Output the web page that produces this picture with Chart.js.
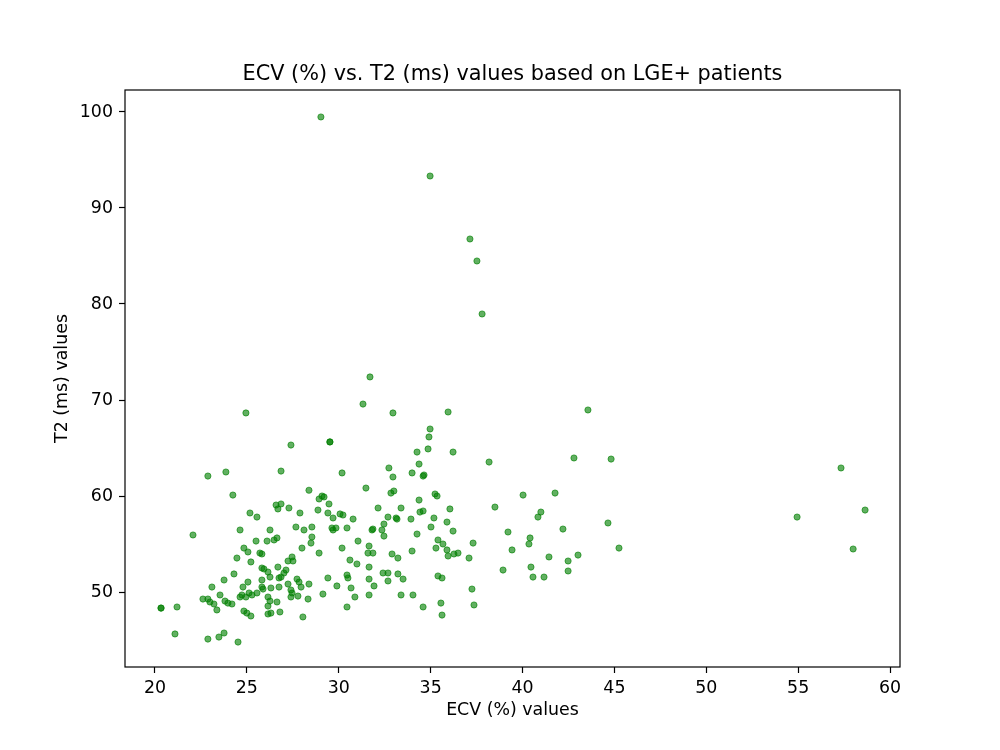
<!DOCTYPE html>
<html>
<head>
<meta charset="utf-8">
<script src="https://cdn.jsdelivr.net/npm/chart.js@4.4.0/dist/chart.umd.min.js"></script>
<style>
html,body{margin:0;padding:0;background:#fff;}
#c{display:block;}
</style>
</head>
<body>
<canvas id="c" width="1000" height="750"></canvas>
<script>
const chartTitle = "ECV (%) vs. T2 (ms) values based on LGE+ patients";
const xLabel = "ECV (%) values";
const yLabel = "T2 (ms) values";
const xTicks = [20,25,30,35,40,45,50,55,60];
const yTicks = [50,60,70,80,90,100];

const ecv = [29.03,34.97,37.14,37.52,37.80,31.70,31.32,32.95,35.95,24.95,43.56,34.97,34.91,34.86,29.52,29.52,27.40,34.26,36.22,34.37,32.73,38.18,42.80,44.82,57.33,22.88,23.86,26.86,30.18,33.99,34.59,34.64,32.95,28.38,31.48,
32.84,33.00,29.09,29.20,28.93,29.47,28.87,27.89,32.14,33.39,34.37,35.24,35.35,29.41,30.07,30.23,29.69,30.78,32.68,33.12,33.17,33.93,34.42,34.59,35.18,35.89,27.67,28.54,28.11,29.63,29.69,29.85,30.45,31.81,31.86,32.46,32.35,32.46,34.26,35.02,28.54,28.49,31.05,31.65,28.00,30.18,28.93,31.59,31.86,32.90,33.22,33.99,35.40,35.67,35.29,35.89,35.95,30.61,30.99,31.65,32.41,32.68,33.22,33.50,32.68,31.65,30.45,30.50,29.41,27.73,27.84,27.95,28.38,29.90,30.67,31.92,27.46,27.40,27.78,28.33,29.14,30.88,31.65,33.39,34.04,35.40,35.62,30.45,34.59,35.56,35.62,28.05,
24.24,25.17,25.55,26.59,26.86,26.69,27.29,22.07,24.63,26.26,25.50,26.10,26.48,26.64,24.84,25.06,25.71,25.82,24.46,25.22,26.69,27.24,27.46,27.51,25.82,25.93,26.15,27.13,27.02,24.30,26.26,26.75,26.86,23.76,27.24,25.06,25.82,23.10,24.79,25.82,23.54,24.63,24.73,24.95,25.12,25.28,25.55,25.88,26.31,26.75,27.40,22.61,22.88,22.99,23.21,23.37,23.81,23.97,24.19,26.15,26.26,26.15,26.64,24.84,25.00,25.22,26.15,26.31,26.80,20.33,20.33,21.20,21.09,22.88,23.48,23.76,24.52,
40.03,41.77,38.50,41.00,40.84,44.65,36.05,36.22,39.21,42.20,40.41,40.35,37.31,45.25,39.43,36.27,36.49,37.09,41.44,42.48,43.02,38.94,40.46,40.57,41.17,42.48,37.25,37.36,54.94,57.99,58.64];

const t2 = [99.48,93.33,86.77,84.48,78.96,72.40,69.58,68.65,68.75,68.65,68.96,66.98,66.15,64.90,65.63,65.63,65.31,64.58,64.58,63.33,62.92,63.54,63.96,63.85,62.92,62.08,62.50,62.60,62.40,62.40,62.08,62.19,61.98,60.60,60.83,
60.31,60.52,60.00,59.90,59.69,59.17,58.54,58.23,58.75,58.75,59.58,60.21,60.00,58.23,58.13,58.02,57.71,57.60,57.81,57.71,57.60,57.60,58.33,58.44,57.71,57.29,56.77,56.77,56.46,56.67,56.46,56.67,56.67,56.46,56.56,57.08,56.46,55.83,56.04,56.77,55.73,55.10,55.31,54.79,54.58,54.58,54.06,54.06,54.06,53.96,53.54,54.27,55.42,55.00,54.58,54.38,53.75,53.33,52.92,52.60,51.98,51.98,51.88,51.35,51.15,51.35,51.77,51.46,51.46,51.35,51.04,50.52,50.83,50.63,50.42,50.63,49.90,49.48,49.58,49.27,49.79,49.48,49.69,49.69,49.69,51.67,51.46,48.44,48.44,48.85,47.60,47.40,
60.10,58.23,57.81,59.06,59.17,58.65,58.75,55.94,56.46,56.46,55.31,55.31,55.42,55.63,54.58,54.17,54.06,53.96,53.54,53.13,52.60,53.23,53.65,53.23,52.50,52.40,52.08,52.29,51.98,51.88,51.56,51.46,51.56,51.25,50.83,51.04,51.25,50.52,50.52,50.52,49.69,49.48,49.69,49.48,49.90,49.69,49.90,50.31,50.42,50.52,50.21,49.27,49.27,48.96,48.75,48.13,49.06,48.85,48.75,49.48,49.06,48.54,48.96,48.02,47.81,47.50,47.71,47.81,47.92,48.33,48.33,48.44,45.63,45.10,45.31,45.73,44.79,
60.10,60.31,58.85,58.33,57.81,57.19,58.65,56.35,56.25,56.56,55.63,55.00,55.10,54.58,54.38,53.96,54.06,53.54,53.65,53.23,53.85,52.29,52.60,51.56,51.56,52.19,50.31,48.65,57.81,54.48,58.54];

const points = ecv.map((x, i) => ({x: x, y: t2[i]}));
const FONT = "'DejaVu Sans', sans-serif";

const framePlugin = {
  id: 'frame',
  afterDraw(chart) {
    const {ctx, chartArea: a} = chart;
    ctx.save();
    ctx.strokeStyle = '#000';
    ctx.lineWidth = 1.2;
    ctx.strokeRect(a.left, a.top, a.right - a.left, a.bottom - a.top);
    // axes title, centred over the plot area like matplotlib
    ctx.fillStyle = '#000';
    ctx.font = "20.8px " + FONT;
    ctx.textAlign = 'center';
    ctx.textBaseline = 'alphabetic';
    ctx.fillText(chartTitle, (a.left + a.right) / 2, a.top - 10.4);
    ctx.restore();
  }
};

new Chart(document.getElementById('c'), {
  type: 'scatter',
  data: {
    datasets: [{
      label: chartTitle,
      data: points,
      backgroundColor: 'rgba(0,128,0,0.62)',
      borderColor: 'rgba(0,128,0,0.62)',
      borderWidth: 1,
      pointRadius: 3.1,
      pointHoverRadius: 3.1
    }]
  },
  options: {
    responsive: false,
    animation: false,
    devicePixelRatio: 1,
    layout: {padding: {left: 0, right: 100, top: 90, bottom: 0}},
    plugins: {
      legend: {display: false},
      tooltip: {enabled: false},
      title: {display: false}
    },
    scales: {
      x: {
        type: 'linear',
        min: 18.37,
        max: 60.54,
        afterFit(s) { s.height = 83; },
        afterBuildTicks(s) { s.ticks = xTicks.map(v => ({value: v})); },
        border: {display: false},
        grid: {drawOnChartArea: false, drawTicks: true, tickLength: 6, tickColor: '#000', tickWidth: 1.2},
        ticks: {color: '#000', font: {family: FONT, size: 17.4}, padding: 5, maxRotation: 0, autoSkip: false},
        title: {display: true, text: xLabel, color: '#000', font: {family: FONT, size: 17.4, lineHeight: 1.2}, padding: {top: 0, bottom: 28.6}}
      },
      y: {
        type: 'linear',
        min: 42.19,
        max: 102.29,
        afterFit(s) { s.width = 125; },
        afterBuildTicks(s) { s.ticks = yTicks.map(v => ({value: v})); },
        border: {display: false},
        grid: {drawOnChartArea: false, drawTicks: true, tickLength: 6, tickColor: '#000', tickWidth: 1.2},
        ticks: {color: '#000', font: {family: FONT, size: 17.4}, padding: 6, autoSkip: false},
        title: {display: true, text: yLabel, color: '#000', font: {family: FONT, size: 17.4, lineHeight: 1.2}, padding: {top: 51.6, bottom: 0}}
      }
    }
  },
  plugins: [framePlugin]
});
</script>
</body>
</html>
